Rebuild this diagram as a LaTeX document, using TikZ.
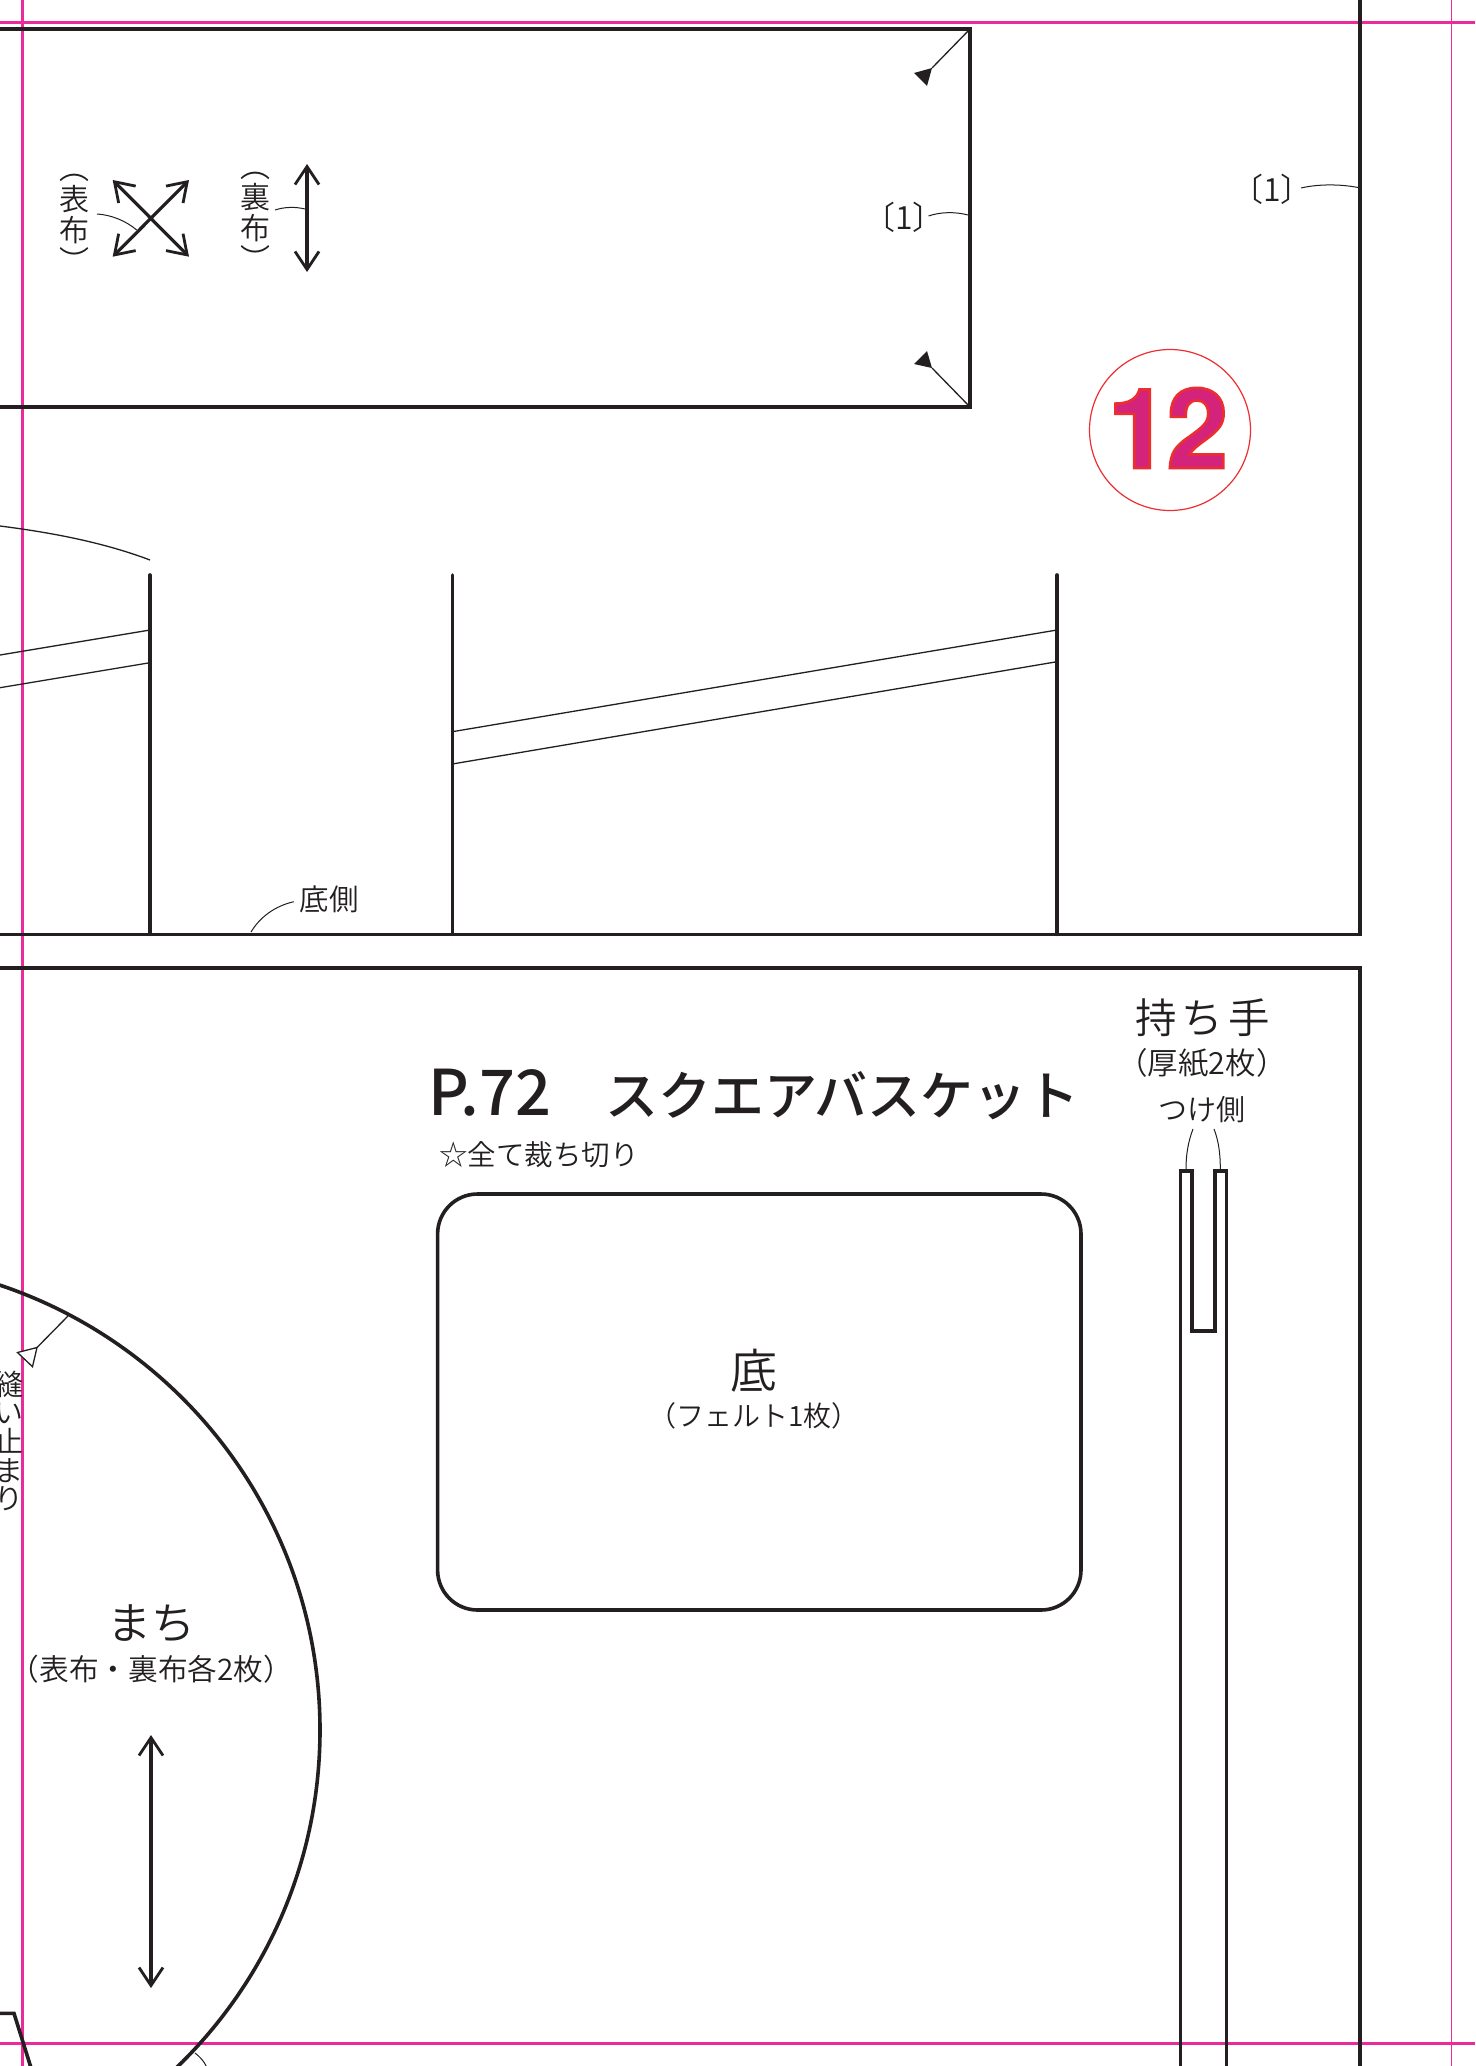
\documentclass[tikz,border=0pt]{standalone}
\usepackage{fontspec}
\usetikzlibrary{arrows.meta}
\setmainfont{Noto Sans CJK JP DemiLight}
\newfontfamily\jpl{Noto Sans CJK JP DemiLight}
\newfontfamily\jpm{Noto Sans CJK JP Medium}
\newfontfamily\helv{TeX Gyre Heros}
\definecolor{ink}{HTML}{231F20}
\definecolor{trim}{HTML}{EC2A9A}
\definecolor{numfill}{HTML}{D4237A}
\definecolor{numline}{HTML}{EE2E30}
\newcommand{\fs}[1]{\fontsize{#1}{#1}\selectfont}
\tikzset{
  heavy/.style={draw=ink,line width=3.6pt,line join=miter},
  thin line/.style={draw=ink,line width=1.3pt},
  leader/.style={draw=ink,line width=1pt},
  trimline/.style={draw=trim,line width=2.2pt},
  bidir/.style={draw=ink,line width=3.2pt,{Straight Barb[length=18pt,width=24pt,line width=2.8pt]}-{Straight Barb[length=18pt,width=24pt,line width=2.8pt]}},
  lbl/.style={text=ink,inner sep=0pt,outer sep=0pt,font=\jpl\fs{29}},
  vlbl/.style={text=ink,inner sep=0pt,outer sep=0pt,align=center,font=\jpl\fontsize{30}{31}\selectfont},
  big/.style={text=ink,inner sep=0pt,outer sep=0pt,font=\jpl\fs{44}}
}
\begin{document}
\begin{tikzpicture}[x=1pt,y=-1pt]
\useasboundingbox (0,0) rectangle (1475,2066);
\clip (0,0) rectangle (1475,2066);
\fill[white] (0,0) rectangle (1475,2066);
% trim marks
\draw[trimline] (0,22.5) -- (1475,22.5);
\draw[trimline] (0,2043.5) -- (1475,2043.5);
\draw[trimline] (22.5,0) -- (22.5,2066);
\draw[draw=trim,line width=1.1pt] (1451.5,0) -- (1451.5,2066);
% top rectangle
\draw[heavy] (0,29) -- (970,29) -- (970,407) -- (0,407);
\draw[thin line] (970,29) -- (932,68);
\fill[ink] (932,68) -- (914,73) -- (927,86) -- cycle;
\draw[thin line] (970,407) -- (932,368);
\fill[ink] (932,368) -- (914,364) -- (927,351) -- cycle;
% right frame
\draw[heavy] (1360,0) -- (1360,934.3) -- (0,934.3);
\draw[heavy] (0,967.7) -- (1360,967.7) -- (1360,2066);
% verticals
\draw[heavy,line cap=round] (150,575) -- (150,934.3);
\draw[heavy,line cap=round] (452.3,575) -- (452.3,934.3);
\draw[heavy,line cap=round] (1057,575) -- (1057,934.3);
% thin bands
\draw[thin line] (0,655) -- (150,630);
\draw[thin line] (0,687.7) -- (150,662.7);
\draw[thin line] (452.3,731.7) -- (1057,630);
\draw[thin line] (452.3,764) -- (1057,661.7);
\draw[thin line] (0,526) .. controls (55,533) and (105,543) .. (150,560);
% grain arrows
\draw[bidir] (112.7,180) -- (189,256.7);
\draw[bidir] (112.7,256.7) -- (189,180);
\draw[bidir] (307,164) -- (307,272);
\draw[bidir] (151,1735) -- (151,1988);
% vertical labels
\node[vlbl] (omote) at (74.7,223) {︵\\表\\布\\︶};
\node[vlbl] (ura) at (255,221) {︵\\裏\\布\\︶};
\draw[leader] (97,214) .. controls (112,215) and (126,221) .. (136.7,230);
\draw[leader] (275,210) .. controls (284,207) and (295,206.5) .. (305,209);
% (1)
\node[lbl,font=\jpl\fs{32}] (seamA) at (904,217) {〔1〕};
\node[lbl,font=\jpl\fs{32}] (seamB) at (1272,189) {〔1〕};
\draw[leader] (928.5,216) .. controls (940,212) and (955,211.5) .. (968,215);
\draw[leader] (1301,188) .. controls (1318,184) and (1340,184) .. (1358,187.5);
% circled number
\draw[draw=numline,line width=1.2pt] (1170,430) circle[radius=80.5pt];
\node[inner sep=0pt,outer sep=0pt,text=numfill,font=\helv\bfseries\fs{111}] (pagenum) at (1168,428)
  {\special{pdf:code 2 Tr 2.6 w 0.93 0.18 0.19 RG}1\kern-3pt 2\special{pdf:code 0 Tr}};
% label sokogawa
\node[lbl,font=\jpl\fs{29.5}] (sokogawa) at (329,899) {底側};
\draw[leader] (293.7,901.7) .. controls (275,906) and (260,917) .. (251,932);
% title
\node[inner sep=0pt,outer sep=0pt,text=ink,anchor=base west,font=\jpm\fs{53}] (title) at (428,1115) {{\fs{63}P.72}\kern54pt スクエアバスケット};
\node[lbl,font=\jpl\fs{28.5},anchor=west] (note) at (439,1155) {☆全て裁ち切り};
% bottom rounded
\draw[heavy,rounded corners=40pt] (437.6,1194) rectangle (1081,1610);
\node[big,font=\jpl\fs{47}] (soko) at (754,1371) {底};
\node[lbl,font=\jpl\fs{28}] (felt) at (754,1416) {（フェルト1枚）};
% handle
\node[big,font=\jpl\fs{41.5}] (mochite) at (1202.5,1017.5) {持\kern5pt ち\kern5pt 手};
\node[lbl,font=\jpl\fs{30.5}] (atsu) at (1202,1063) {（厚紙2枚）};
\node[lbl] (tsuke) at (1202,1110) {つけ側};
\draw[leader] (1193,1129) .. controls (1188,1142) and (1186,1155) .. (1186,1169);
\draw[leader] (1214,1129) .. controls (1219,1142) and (1220.3,1155) .. (1220.3,1169);
\draw[heavy] (1180.3,2070) -- (1180.3,1170.7) -- (1192,1170.7) -- (1192,1330.7) -- (1214.7,1330.7) -- (1214.7,1170.7) -- (1226.3,1170.7) -- (1226.3,2070);
% gusset
\draw[heavy] (-149,1730) circle[radius=469pt];
\draw[thin line] (68,1316) -- (37,1347.5);
\draw[thin line,fill=white,line join=miter] (37,1347.5) -- (17.5,1352.5) -- (32.5,1366.7) -- cycle;
\node[vlbl,font=\jpl\fontsize{29}{28.7}\selectfont] (nuidome) at (9,1441) {縫\\い\\止\\ま\\り};
\node[big] (machi) at (151,1623) {まち};
\node[lbl,font=\jpl\fs{29.7}] (kakuni) at (151.5,1669) {（表布・裏布各2枚）};
% bottom fragments
\draw[heavy] (-5,2013.3) -- (14,2013.3) -- (31.7,2070);
\draw[leader] (195,2053) .. controls (200,2057) and (204,2061) .. (206.7,2067);
\end{tikzpicture}
\end{document}
